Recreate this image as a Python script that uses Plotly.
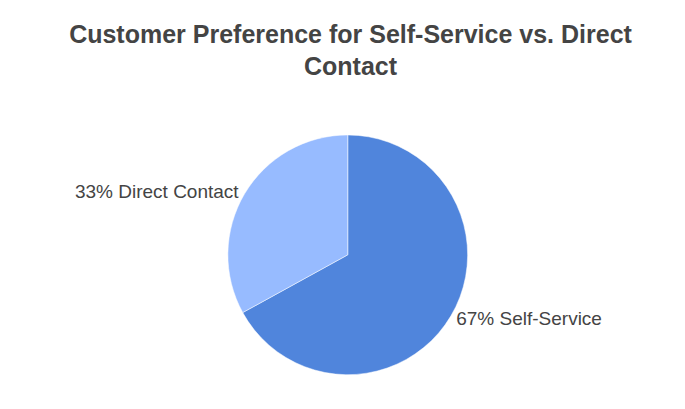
import plotly.graph_objects as go

labels = ["Self-Service", "Direct Contact"]
values = [67, 33]
colors = ["#5085DC", "#97BBFF"]

fig = go.Figure(go.Pie(
    labels=labels, values=values, sort=False, direction="clockwise", rotation=0,
    marker=dict(colors=colors, line=dict(color="white", width=0.5)),
    texttemplate="%{percent:.0%} %{label}", textposition="outside",
    textfont=dict(family="Liberation Sans, Arial", size=19, color="#444444"),
    domain=dict(x=[0.321, 0.671], y=[0.103, 0.69]),
    automargin=False, showlegend=False, hoverinfo="label+percent",
))
fig.update_layout(
    width=685, height=409, margin=dict(l=0, r=0, t=0, b=0),
    paper_bgcolor="white",
    title=dict(text="<b>Customer Preference for Self-Service vs. Direct<br>Contact</b>",
               x=0.5, xanchor="center", y=0.915, yanchor="top",
               font=dict(family="Liberation Sans, Arial", size=25, color="#444444")),
)
fig.write_html("out.html")
